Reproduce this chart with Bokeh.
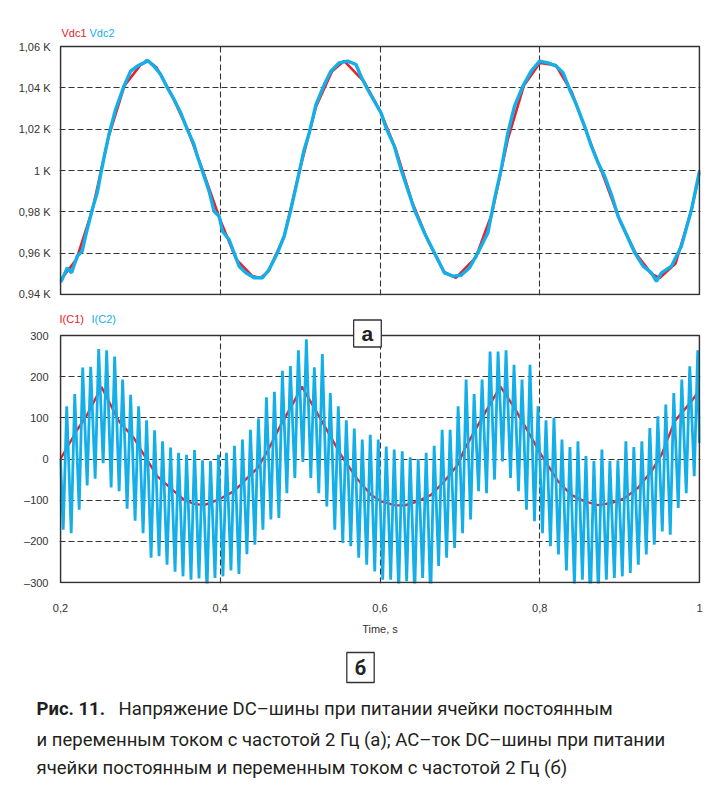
from bokeh.plotting import figure
from bokeh.models import Range1d, FixedTicker, Label, BoxAnnotation
from bokeh.layouts import column
from bokeh.embed import file_html
from bokeh.resources import INLINE

RED = "#e8202a"
CYAN = "#14aee8"
INK = "#333333"
FONT = "Liberation Sans"
CAP_FONT = "Roboto"

# ---------------- data: panel (a), DC-bus voltage, kV ----------------
vdc2_t = [0.200, 0.2021, 0.2084, 0.2138, 0.2209, 0.2272, 0.2313, 0.2397, 0.246, 0.2502,
          0.2543, 0.2606, 0.269, 0.2794, 0.2878, 0.2962, 0.3045, 0.3087, 0.317, 0.3254,
          0.3338, 0.3421, 0.3505, 0.3589, 0.3671, 0.3714, 0.3777, 0.386, 0.3922, 0.3985,
          0.4028, 0.411, 0.4173, 0.4236, 0.432, 0.4424, 0.4529, 0.4612, 0.4717, 0.48,
          0.4884, 0.4968, 0.5051, 0.5114, 0.5198, 0.5302, 0.5386, 0.549, 0.5595, 0.5699,
          0.5762, 0.5846, 0.5929, 0.6013, 0.6075, 0.6179, 0.6263, 0.6347, 0.643, 0.6556,
          0.6681, 0.6806, 0.6912, 0.7016, 0.712, 0.7225, 0.735, 0.7433, 0.7517, 0.7601,
          0.7684, 0.7789, 0.7893, 0.7998, 0.8103, 0.8207, 0.8291, 0.8374, 0.8458, 0.8562,
          0.8646, 0.873, 0.8813, 0.8897, 0.8981, 0.9085, 0.9189, 0.9294, 0.9398, 0.9461,
          0.9524, 0.9649, 0.9774, 0.99, 1.0]
vdc2 = [0.946, 0.9473, 0.9529, 0.9505, 0.9585, 0.961, 0.9682, 0.9811, 0.9892, 0.998,
        1.006, 1.0174, 1.0295, 1.0408, 1.0481, 1.0505, 1.0521, 1.0534, 1.0505, 1.0465,
        1.04, 1.0344, 1.0279, 1.0198, 1.0126, 1.0069, 0.9997, 0.99, 0.9803, 0.9779,
        0.9706, 0.9666, 0.9602, 0.9537, 0.9505, 0.9481, 0.9481, 0.9521, 0.9602, 0.9682,
        0.9811, 0.9956, 1.0102, 1.0182, 1.0319, 1.0416, 1.0481, 1.0521, 1.0529, 1.0513,
        1.0456, 1.0392, 1.0335, 1.0279, 1.0207, 1.0118, 1.0005, 0.9908, 0.9811, 0.9698,
        0.9602, 0.9505, 0.9489, 0.9493, 0.9529, 0.9602, 0.9698, 0.986, 1.0005, 1.0182,
        1.0311, 1.0408, 1.0481, 1.0529, 1.0521, 1.0505, 1.0473, 1.0392, 1.0319, 1.0214,
        1.0118, 1.0037, 0.9972, 0.9884, 0.9779, 0.969, 0.9602, 0.9537, 0.9505, 0.9464,
        0.9505, 0.9537, 0.9634, 0.9811, 0.9997]

vdc1_t = [0.2, 0.22, 0.24, 0.26, 0.28, 0.30, 0.31, 0.32, 0.34, 0.36, 0.38, 0.40, 0.42,
          0.44, 0.45, 0.46, 0.48, 0.50, 0.52, 0.54, 0.555, 0.58, 0.60, 0.62, 0.64, 0.66,
          0.68, 0.695, 0.72, 0.74, 0.76, 0.78, 0.80, 0.82, 0.84, 0.86, 0.88, 0.90, 0.92,
          0.94, 0.95, 0.97, 0.99, 1.0]
vdc1 = [0.947, 0.957, 0.981, 1.016, 1.041, 1.051, 1.053, 1.050, 1.036, 1.019, 0.998,
        0.976, 0.957, 0.949, 0.948, 0.951, 0.968, 1.001, 1.031, 1.048, 1.053, 1.043,
        1.029, 1.010, 0.985, 0.966, 0.951, 0.948, 0.958, 0.979, 1.015, 1.041, 1.052,
        1.051, 1.038, 1.017, 0.997, 0.976, 0.960, 0.950, 0.948, 0.955, 0.981, 0.999]

v_ticks = [0.94, 0.96, 0.98, 1.0, 1.02, 1.04, 1.06]
v_labels = ["0,94 K", "0,96 K", "0,98 K", "1 K", "1,02 K", "1,04 K", "1,06 K"]
v_grid = [0.96, 0.98, 1.0, 1.02, 1.04]

# ---------------- data: panel (b), currents, A ----------------
ic1_t = [0.2, 0.221, 0.2335, 0.2514, 0.2731, 0.2919, 0.3045, 0.3213, 0.3421, 0.3546,
         0.3671, 0.3797, 0.3922, 0.4006, 0.4173, 0.4298, 0.4466, 0.4592, 0.4759, 0.4925,
         0.5022, 0.5176, 0.5344, 0.5511, 0.572, 0.5887, 0.6013, 0.6179, 0.6305, 0.6473,
         0.6639, 0.6806, 0.6974, 0.7057, 0.7182, 0.735, 0.7508, 0.7684, 0.7852, 0.8019,
         0.8228, 0.8395, 0.8562, 0.873, 0.8897, 0.9063, 0.9231, 0.9398, 0.9524, 0.969,
         0.99, 1.0]
ic1 = [0, 71, 108, 175, 92, 51, 10, -42, -78, -99,
       -109, -112, -103, -96, -78, -54, -22, 19, 83, 140,
       176, 124, 67, 10, -50, -87, -103, -112, -113, -103,
       -87, -54, -14, 23, 67, 124, 176, 124, 67, 10,
       -54, -87, -103, -112, -107, -95, -70, -30, 10, 92,
       140, 168]

# I(C2): one trough and one peak per 100 Hz ripple cycle
ic2_first_trough_t = 0.2034
ic2_first_peak_t = 0.2078
ic2_cycle = 0.01
ic2_start = 0
ic2_end = 39
ic2_troughs = [-172, -180, -123, -64, -48, -10, -69, -78, -121, -150,
               -180, -240, -236, -257, -274, -285, -293, -290, -321, -289,
               -285, -271, -279, -231, -208, -172, -147, -143, -83, -46,
               -7, -46, -83, -115, -172, -204, -212, -240, -257, -273,
               -293, -293, -321, -297, -329, -289, -341, -260, -240, -216,
               -180, -147, -78, -83, -50, -6, -46, -78, -123, -151,
               -180, -212, -232, -271, -309, -293, -354, -325, -293, -289,
               -285, -277, -257, -232, -208, -176, -184, -119, -83, -42]
ic2_peaks = [128, 158, 222, 224, 267, 264, 249, 193, 156, 128,
             94, 70, 43, 28, 15, 10, 22, -3, -5, 10,
             15, 32, 47, 71, 98, 150, 163, 214, 226, 264,
             291, 223, 255, 160, 128, 94, 74, 47, 59, 47,
             30, 23, 19, 4, 0, 15, 32, 71, 71, 128,
             193, 158, 193, 261, 261, 264, 229, 193, 229, 128,
             94, 100, 47, 29, 43, 7, -5, 23, -5, -3,
             43, 29, 43, 75, 104, 132, 160, 193, 225, 264]

i_ticks = [-300, -200, -100, 0, 100, 200, 300]
i_labels = ["\u2013300", "\u2013200", "\u2013100", "0", "100", "200", "300"]
i_grid = [-200, -100, 0, 100, 200]

t_ticks = [0.2, 0.4, 0.6, 0.8, 1.0]
t_labels = ["0,2", "0,4", "0,6", "0,8", "1"]
t_grid = [0.4, 0.6, 0.8]

caption_bold = "Рис. 11."
caption_lines = [
    "Напряжение DC–шины при питании ячейки постоянным",
    "и переменным током с частотой 2 Гц (а); AC–ток DC–шины при питании",
    "ячейки постоянным и переменным током с частотой 2 Гц (б)",
]

ic2_t = [0.2]
ic2 = [ic2_start]
for k, (tr, pk) in enumerate(zip(ic2_troughs, ic2_peaks)):
    ic2_t += [ic2_first_trough_t + k * ic2_cycle, ic2_first_peak_t + k * ic2_cycle]
    ic2 += [tr, pk]
ic2_t.append(1.0)
ic2.append(ic2_end)

# ---------------- layout geometry (px) ----------------
W = 707
PX_T = 639 / 0.8
x_rng = (0.2 - 1 / PX_T, 1.0 + 1 / PX_T)
ML, MR = 59, 7
TOP_H, BOT_H, CAP_H = 299, 340, 148

COMMON = dict(output_backend="svg", toolbar_location=None, frame_align=False)


def style(p, yt, yl, yg):
    p.background_fill_color = "white"
    p.border_fill_color = "white"
    p.outline_line_color = None
    for ax in p.axis:
        ax.axis_line_color = None
        ax.major_tick_line_color = None
        ax.minor_tick_line_color = None
        ax.major_label_text_font = FONT
        ax.major_label_text_font_size = "11px"
        ax.major_label_text_color = INK
    p.yaxis.ticker = FixedTicker(ticks=yt)
    p.yaxis.major_label_overrides = dict(zip(yt, yl))
    p.xgrid.ticker = FixedTicker(ticks=t_grid)
    p.ygrid.ticker = FixedTicker(ticks=yg)
    p.grid.grid_line_color = INK
    p.grid.grid_line_dash = "6 3"
    p.grid.grid_line_width = 1.1


def cover_and_frame(p, y0, y1):
    p.add_layout(BoxAnnotation(bottom=y1, fill_color="white", fill_alpha=1.0,
                               line_color=None))
    p.add_layout(BoxAnnotation(left=0.2, right=1.0, bottom=y0, top=y1, fill_alpha=0.0,
                               line_color=INK, line_width=1.6, line_alpha=1.0))


def legend_label(p, x, y, dy, dx, text, color):
    p.add_layout(Label(x=x, y=y, x_offset=dx, y_offset=dy, text=text,
                       text_font=FONT, text_font_size="11px", text_color=color,
                       text_baseline="middle", text_align="left"))


# ---------------- top panel ----------------
ppu_v = 248 / 0.12
top = figure(width=W, height=TOP_H, x_range=Range1d(*x_rng),
             y_range=Range1d(0.94 - 1 / ppu_v, 1.06 + 21 / ppu_v),
             min_border_left=ML, min_border_right=MR, min_border_top=25, min_border_bottom=4,
             **COMMON)
top.xaxis.visible = False
style(top, v_ticks, v_labels, v_grid)
top.yaxis.major_label_standoff = 3
top.line(vdc1_t, vdc1, line_color=RED, line_width=2.6)
top.line(vdc2_t, vdc2, line_color=CYAN, line_width=3.4)
cover_and_frame(top, 0.94, 1.06)
legend_label(top, 0.2, 1.06, 14, 1, "Vdc1", RED)
legend_label(top, 0.2, 1.06, 14, 29, "Vdc2", CYAN)

# ---------------- bottom panel ----------------
ppu_i = 247 / 600
bot = figure(width=W, height=BOT_H, x_range=Range1d(*x_rng),
             y_range=Range1d(-300 - 1 / ppu_i, 300 + 30 / ppu_i),
             min_border_left=ML, min_border_right=MR, min_border_top=6, min_border_bottom=56,
             **COMMON)
style(bot, i_ticks, i_labels, i_grid)
bot.yaxis.major_label_standoff = 5
bot.xaxis.ticker = FixedTicker(ticks=t_ticks)
bot.xaxis.major_label_overrides = dict(zip(t_ticks, t_labels))
bot.xaxis.major_label_standoff = 14
bot.xaxis.axis_label = "Time, s"
bot.xaxis.axis_label_text_font = FONT
bot.xaxis.axis_label_text_font_size = "11px"
bot.xaxis.axis_label_text_font_style = "normal"
bot.xaxis.axis_label_text_color = INK
bot.xaxis.axis_label_standoff = 8
bot.line(ic1_t, ic1, line_color=RED, line_width=2.4)
bot.line(ic2_t, ic2, line_color=CYAN, line_width=2.8)
cover_and_frame(bot, -300, 300)
legend_label(bot, 0.2, 300, 17, -1, "I(C1)", RED)
legend_label(bot, 0.2, 300, 17, 31, "I(C2)", CYAN)
bot.add_layout(Label(x=0.5843, y=300, y_offset=2, text="\u0430", text_font=FONT,
                     text_font_size="21px", text_font_style="bold", text_color="#222222",
                     text_align="center", text_baseline="middle",
                     border_line_color=INK, border_line_width=1.3,
                     background_fill_color="white",
                     padding=dict(left=8, right=8, top=2, bottom=2)))

# ---------------- caption ----------------
cap = figure(width=W, height=CAP_H, x_range=Range1d(0, W), y_range=Range1d(0, CAP_H),
             x_axis_location=None, y_axis_location=None,
             min_border_left=0, min_border_right=0, min_border_top=0, min_border_bottom=0,
             **COMMON)
cap.grid.visible = False
cap.outline_line_color = None
cap.background_fill_color = "white"
cap.border_fill_color = "white"

cap.add_layout(Label(x=360, y=120, text="\u0431", text_font=CAP_FONT,
                     text_font_size="20px", text_font_style="bold", text_color="#222222",
                     text_align="center", text_baseline="middle",
                     border_line_color=INK, border_line_width=1.3,
                     background_fill_color="white",
                     padding=dict(left=8, right=8, top=3, bottom=3)))

CAP_SIZE = "18.5px"
cap.add_layout(Label(x=36, y=79, text=caption_bold, text_font=CAP_FONT, text_font_size=CAP_SIZE,
                     text_font_style="bold", text_color="#231f20",
                     text_align="left", text_baseline="middle"))
for (x, y), txt in zip([(118, 79), (36, 48), (36, 20)], caption_lines):
    cap.add_layout(Label(x=x, y=y, text=txt, text_font=CAP_FONT, text_font_size=CAP_SIZE,
                         text_color="#231f20", text_align="left", text_baseline="middle"))

layout = column(top, bot, cap, spacing=0)

open("out.html", "w").write(file_html(layout, INLINE))
